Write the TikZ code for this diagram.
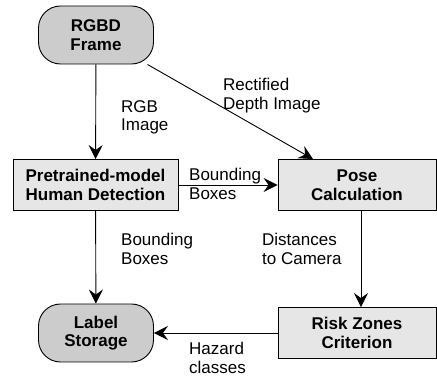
\documentclass[tikz,border=0pt]{standalone}
\usepackage{fontspec}
\setmainfont{Liberation Sans}
\usepackage{xcolor}
\usepackage{tikz}
\usetikzlibrary{
  arrows.meta,
  positioning,
}
\definecolor{termgray}{HTML}{CCCCCC}
\definecolor{stepgray}{HTML}{E6E6E6}

\begin{document}
\begin{tikzpicture}[
    x=1pt, y=-1pt,
    font=\fontsize{17}{18.5}\selectfont,
    terminal/.style={rectangle, rounded corners=22pt, draw=black, fill=termgray,
                     line width=0.9pt, minimum width=115pt, minimum height=58pt,
                     align=center, font=\fontsize{17}{18.5}\selectfont\bfseries},
    stepbox/.style={rectangle, draw=black, fill=stepgray, line width=0.9pt,
                    minimum height=51pt, align=center,
                    font=\fontsize{17}{18.5}\selectfont\bfseries},
    flow/.style={line width=0.9pt,
                 -{Stealth[length=14pt, width=14pt, inset=5pt]}},
    tag/.style={anchor=north west, inner sep=0pt, align=left},
  ]
  \useasboundingbox (0,0) rectangle (437,379);

  \node[terminal] (rgbd) at (96,35)  {RGBD\\Frame};
  \node[stepbox, minimum width=165pt] (det)  at (95.5,185) {Pretrained-model\\Human Detection};
  \node[stepbox, minimum width=158pt] (pose) at (357,185)  {Pose\\Calculation};
  \node[terminal] (store) at (96,333) {Label\\Storage};
  \node[stepbox, minimum width=158pt] (risk) at (357,333)  {Risk Zones\\Criterion};

  \draw[flow] (rgbd) -- (det);
  \draw[flow] (rgbd) -- ([xshift=-44pt]pose.north);
  \draw[flow] (det) -- (pose);
  \draw[flow] (det) -- (store);
  \draw[flow] ([xshift=4pt]pose.south) -- ([xshift=4pt]risk.north);
  \draw[flow] (risk) -- (store);

  \node[tag] (lrgb)   at (121,100) {RGB\\Image};
  \node[tag] (ldepth) at (223,78)  {Rectified\\Depth Image};
  \node[tag] (lbox1)  at (189,168) {Bounding\\Boxes};
  \node[tag] (lbox2)  at (121,233) {Bounding\\Boxes};
  \node[tag] (ldist)  at (262,233) {Distances\\to Camera};
  \node[tag] (lhaz)   at (189,342) {Hazard\\classes};
\end{tikzpicture}
\end{document}
